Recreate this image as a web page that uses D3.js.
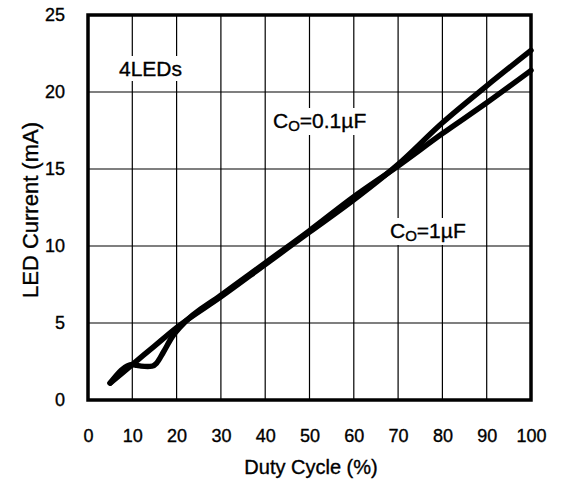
<!DOCTYPE html>
<html><head><meta charset="utf-8">
<script src="https://cdn.jsdelivr.net/npm/d3@7"></script>
<style>body{margin:0;background:#fff}svg{display:block}text{font-family:"Liberation Sans",Arial,sans-serif;fill:#000;stroke:#000;stroke-width:0.35px}</style>
</head><body><svg id="c" width="564" height="482"></svg>
<script>
const xTicks = [0,10,20,30,40,50,60,70,80,90,100];
const yTicks = [0,5,10,15,20,25];
const seriesA_x = [5,10,15,20,30,40,50,60,70,80,90,100];
const seriesA_y = [1.1,2.3,3.5,4.7,6.7,8.8,10.9,13.0,15.3,18.0,20.4,22.7];
const seriesB_x = [5,10,11,12,13.5,14.5,15.5,17,19,21,30,40,50,60,70,80,90,100];
const seriesB_y = [1.1,2.3,2.25,2.2,2.18,2.2,2.4,3.1,4.1,4.8,6.8,8.9,11.0,13.2,15.2,17.3,19.3,21.4];

const svg = d3.select("#c");
const L=88,R=531,T=15,B=400;
const x = d3.scaleLinear().domain([0,100]).range([L,R]);
const y = d3.scaleLinear().domain([0,25]).range([B,T]);
const FF = "Liberation Sans, Arial, sans-serif";

// grid
svg.append("g").selectAll("line").data(xTicks.slice(1,-1)).join("line")
  .attr("x1",d=>x(d)).attr("x2",d=>x(d)).attr("y1",T).attr("y2",B)
  .attr("stroke","#000").attr("stroke-width",1.2);
svg.append("g").selectAll("line").data(yTicks.slice(1,-1)).join("line")
  .attr("y1",d=>y(d)).attr("y2",d=>y(d)).attr("x1",L).attr("x2",R)
  .attr("stroke","#000").attr("stroke-width",1.2);

// axes labels via d3 axes
const xAxis = svg.append("g").attr("transform",`translate(0,${B})`)
  .call(d3.axisBottom(x).tickValues(xTicks).tickSize(0).tickPadding(29));
xAxis.select(".domain").remove();
xAxis.selectAll("text").attr("font-size",18).attr("font-family",FF);
const yAxis = svg.append("g").attr("transform",`translate(${L},0)`)
  .call(d3.axisLeft(y).tickValues(yTicks).tickSize(0).tickPadding(23));
yAxis.select(".domain").remove();
yAxis.selectAll("text").attr("font-size",18).attr("font-family",FF);

// labels with white bg
function label(px,py,main,sub,rest){
  const g = svg.append("g");
  const bg = g.append("rect").attr("fill","#fff").attr("stroke","none");
  const t = g.append("text").attr("x",px).attr("y",py).attr("font-size",21);
  t.append("tspan").text(main);
  if(sub){ t.append("tspan").attr("font-size",15).attr("dy",3).text(sub);
    t.append("tspan").attr("dy",-3).text(rest); }
  const bb = t.node().getBBox();
  bg.attr("x",bb.x-3).attr("y",bb.y-1).attr("width",bb.width+6).attr("height",bb.height+2);
}
label(119,76,"4LEDs");
label(273,128,"C","O","=0.1\u00b5F");
label(390,238,"C","O","=1\u00b5F");

// curves
const line = d3.line().x(d=>x(d[0])).y(d=>y(d[1])).curve(d3.curveMonotoneX);
const A = seriesA_x.map((v,i)=>[v,seriesA_y[i]]);
const Bd = seriesB_x.map((v,i)=>[v,seriesB_y[i]]);
[A,Bd].forEach(d=>svg.append("path").datum(d).attr("d",line)
  .attr("fill","none").attr("stroke","#000").attr("stroke-width",5.5)
  .attr("stroke-linecap","round").attr("stroke-linejoin","round"));

// frame
svg.append("rect").attr("x",L).attr("y",T).attr("width",R-L).attr("height",B-T)
  .attr("fill","none").attr("stroke","#000").attr("stroke-width",3.5);

svg.append("text").attr("x",311).attr("y",474).attr("text-anchor","middle").attr("font-size",20).text("Duty Cycle (%)");
svg.append("text").attr("transform","translate(38,210) rotate(-90)").attr("text-anchor","middle").attr("font-size",22).text("LED Current (mA)");
</script></body></html>
